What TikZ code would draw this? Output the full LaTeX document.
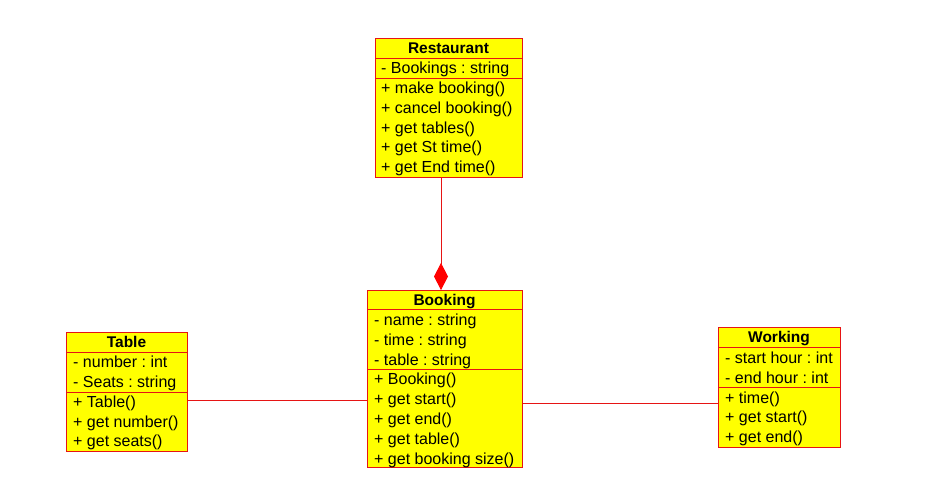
\documentclass[tikz,border=0pt]{standalone}
\usepackage{fontspec}
\setmainfont{Liberation Sans}
\usetikzlibrary{arrows.meta}
\definecolor{umlred}{RGB}{230,20,20}
\definecolor{umlyellow}{RGB}{255,255,0}
\frenchspacing
\begin{document}
\begin{tikzpicture}[x=1pt,y=1pt,
  classbox/.style={draw=umlred, fill=umlyellow, line width=1pt, inner sep=0pt, outer sep=0pt, rectangle},
  sepline/.style={draw=umlred, line width=0.9pt},
  conn/.style={draw=umlred, line width=0.8pt},
  rowtext/.style={anchor=base west, inner sep=0pt, font=\fontsize{16}{19}\selectfont},
  titletext/.style={anchor=base, inner sep=0pt, font=\fontsize{15.5}{18}\selectfont\bfseries},
]
\useasboundingbox (0,0) rectangle (938,-483);

% ---------------- Restaurant ----------------
\node[classbox, minimum width=147pt, minimum height=139pt] (restaurant) at (448.5,-107.5) {};
\draw[sepline] (restaurant.west |- 0,-58) -- (restaurant.east |- 0,-58);
\draw[sepline] (restaurant.west |- 0,-78) -- (restaurant.east |- 0,-78);
\node[titletext] (rt) at (448.5,-53.5) {Restaurant};
\node[rowtext] (ra1) at (381,-73.8) {- Bookings : string};
\node[rowtext] (rm1) at (381,-93.8) {+ make booking()};
\node[rowtext] (rm2) at (381,-113.5) {+ cancel booking()};
\node[rowtext] (rm3) at (381,-133.2) {+ get tables()};
\node[rowtext] (rm4) at (381,-152.9) {+ get St time()};
\node[rowtext] (rm5) at (381,-172.6) {+ get End time()};

% ---------------- Booking ----------------
\node[classbox, minimum width=155pt, minimum height=177pt] (booking) at (444.5,-378.5) {};
\draw[sepline] (booking.west |- 0,-309) -- (booking.east |- 0,-309);
\draw[sepline] (booking.west |- 0,-369) -- (booking.east |- 0,-369);
\node[titletext] (bt) at (444.5,-305) {Booking};
\node[rowtext] (ba1) at (374,-325.8) {- name : string};
\node[rowtext] (ba2) at (374,-345.5) {- time : string};
\node[rowtext] (ba3) at (374,-365.2) {- table : string};
\node[rowtext] (bm1) at (374,-384.8) {+ Booking()};
\node[rowtext] (bm2) at (374,-404.8) {+ get start()};
\node[rowtext] (bm3) at (374,-424.8) {+ get end()};
\node[rowtext] (bm4) at (374,-444.8) {+ get table()};
\node[rowtext] (bm5) at (374,-464.8) {+ get booking size()};

% ---------------- Table ----------------
\node[classbox, minimum width=121pt, minimum height=119pt] (table) at (126.5,-391.5) {};
\draw[sepline] (table.west |- 0,-352) -- (table.east |- 0,-352);
\draw[sepline] (table.west |- 0,-392) -- (table.east |- 0,-392);
\node[titletext] (tt) at (126.5,-347.5) {Table};
\node[rowtext] (ta1) at (73,-367.8) {- number : int};
\node[rowtext] (ta2) at (73,-387.5) {- Seats : string};
\node[rowtext] (tm1) at (73,-407.3) {+ Table()};
\node[rowtext] (tm2) at (73,-427.1) {+ get number()};
\node[rowtext] (tm3) at (73,-446.9) {+ get seats()};

% ---------------- Working ----------------
\node[classbox, minimum width=122pt, minimum height=120pt] (working) at (779,-387) {};
\draw[sepline] (working.west |- 0,-347) -- (working.east |- 0,-347);
\draw[sepline] (working.west |- 0,-387) -- (working.east |- 0,-387);
\node[titletext] (wt) at (779,-342.5) {Working};
\node[rowtext] (wa1) at (725,-363.3) {- start hour : int};
\node[rowtext] (wa2) at (725,-383.1) {- end hour : int};
\node[rowtext] (wm1) at (725,-403.1) {+ time()};
\node[rowtext] (wm2) at (725,-422.9) {+ get start()};
\node[rowtext] (wm3) at (725,-442.7) {+ get end()};

% ---------------- Connectors ----------------
\coordinate (cr) at (441,-290);
\draw[conn, -{Diamond[length=27pt,width=14pt,fill=red,color=red]}] (restaurant.south -| cr) -- (cr);
\coordinate (ct) at (0,-400);
\draw[conn] (table.east |- ct) -- (booking.west |- ct);
\coordinate (cw) at (0,-403);
\draw[conn] (booking.east |- cw) -- (working.west |- cw);
\end{tikzpicture}
\end{document}
